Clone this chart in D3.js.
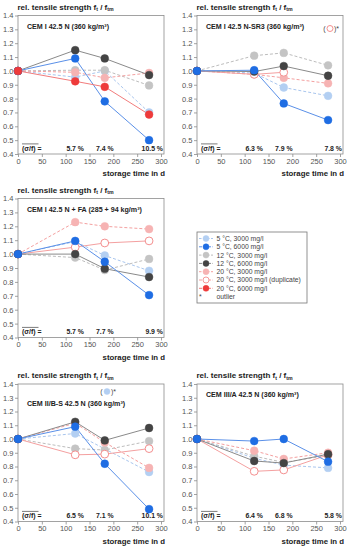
<!DOCTYPE html>
<html>
<head>
<meta charset="utf-8">
<script src="https://cdn.jsdelivr.net/npm/d3@7"></script>
<style>
  body { margin: 0; background: #fff; }
  svg { display: block; font-family: "Liberation Sans", Arial, sans-serif; }
</style>
</head>
<body>
<svg id="chart" width="353" height="550"></svg>
<script>
// storage times (d)
var times = [0, 120, 182, 275];

// panel titles
var panelTitles = [
  "CEM I 42.5 N (360 kg/m³)",
  "CEM I 42.5 N-SR3 (360 kg/m³)",
  "CEM I 42.5 N + FA (285 + 94 kg/m³)",
  "CEM II/B-S 42.5 N (360 kg/m³)",
  "CEM III/A 42.5 N (360 kg/m³)"
];

// mean coefficient of variation per storage time
var cvLabels = [
  ["5.7 %", "7.4 %", "10.5 %"],
  ["6.3 %", "7.9 %", "7.8 %"],
  ["5.7 %", "7.7 %", "9.9 %"],
  ["6.5 %", "7.1 %", "10.1 %"],
  ["6.4 %", "6.8 %", "5.8 %"]
];

// rel. tensile strength per panel (null = no value / outlier)
var t5c3000 = [
  [1.0, 0.955, 1.0, 0.70],
  [1.0, 0.985, 0.88, 0.82],
  [1.0, 1.09, 0.99, 0.88],
  [1.0, 1.04, null, 0.76],
  [1.0, 0.86, 0.81, 0.79]
];
var t5c6000 = [
  [1.0, 1.09, 0.78, 0.50],
  [1.0, 1.005, 0.765, 0.645],
  [1.0, 1.095, 0.945, 0.705],
  [1.0, 1.09, 0.82, 0.49],
  [1.0, 0.985, 1.0, 0.835]
];
var t12c3000 = [
  [1.0, 1.005, 1.005, 0.895],
  [1.0, 1.11, 1.13, 1.04],
  [1.0, 0.975, 0.885, 0.965],
  [1.0, 0.93, 0.92, 0.985],
  [1.0, 0.875, 0.83, 0.88]
];
var t12c6000 = [
  [1.0, 1.15, 1.09, 0.97],
  [1.0, 0.995, 1.035, 0.965],
  [1.0, 1.0, 0.895, 0.835],
  [1.0, 1.125, 0.99, 1.08],
  [1.0, 0.84, 0.825, 0.89]
];
var t20c3000 = [
  [1.0, 0.99, 0.95, 0.985],
  [1.0, 0.975, 0.95, 0.91],
  [1.0, 1.23, 1.20, 1.18],
  [1.0, 1.115, 0.975, 0.79],
  [1.0, 0.915, 0.855, 0.90]
];
var t20c3000dup = [
  null,
  [1.0, 0.975, 0.99, null],
  [1.0, 1.05, 1.08, 1.095],
  [1.0, 0.885, 0.89, 0.93],
  [1.0, 0.765, 0.775, 0.885]
];
var t20c6000 = [
  [1.0, 0.925, 0.885, 0.685],
  null,
  null,
  null,
  null
];

var yTicks = [0.4, 0.5, 0.6, 0.7, 0.8, 0.9, 1.0, 1.1, 1.2, 1.3, 1.4];
var xTicks = [0, 50, 100, 150, 200, 250, 300];

var seriesData = [t5c3000, t12c3000, t20c3000, t20c3000dup, t12c6000, t5c6000, t20c6000];
var seriesNames = ["5 °C, 3000 mg/l", "12 °C, 3000 mg/l", "20 °C, 3000 mg/l",
  "20 °C, 3000 mg/l (duplicate)", "12 °C, 6000 mg/l", "5 °C, 6000 mg/l", "20 °C, 6000 mg/l"];
var seriesFill   = ["#b3cff2", "#c4c4c4", "#f6b3b3", "#ffffff", "#444444", "#1f6de3", "#ee3b3b"];
var seriesStroke = ["#b3cff2", "#c4c4c4", "#f6b3b3", "#f48f8f", "#444444", "#1f6de3", "#ee3b3b"];
var seriesLine   = ["#a9c6ee", "#bdbdbd", "#f4a0a0", "#f4a0a0", "#8a8a8a", "#5a90e8", "#f27c7c"];
var seriesDash   = [true, true, true, false, false, false, false];

// legend order as in the figure
var legendOrder = [0, 5, 1, 4, 2, 3, 6];

var svg = d3.select("#chart");

// plot boxes (pixel areas)
var boxes = [
  { x0: 18,  x1: 161, y0: 15.5,  y1: 154 },
  { x0: 197, x1: 340, y0: 15.5,  y1: 154 },
  { x0: 18,  x1: 161, y0: 198.5, y1: 337.5 },
  { x0: 18,  x1: 161, y0: 384,   y1: 521.5 },
  { x0: 197, x1: 340, y0: 384,   y1: 521.5 }
];
var labelOffset = [10.5, 10.5, 10.5, 19.5, 10];

boxes.forEach(function(b, p) {
  var x = d3.scaleLinear().domain([0, 300]).range([b.x0, b.x1]);
  var y = d3.scaleLinear().domain([0.4, 1.4]).range([b.y1, b.y0]);
  var g = svg.append("g");

  // frame
  g.append("rect")
    .attr("x", b.x0).attr("y", b.y0)
    .attr("width", b.x1 + 3 - b.x0).attr("height", b.y1 - b.y0)
    .attr("fill", "none").attr("stroke", "#8c8c8c").attr("stroke-width", 0.8);

  // axes
  var ya = g.append("g").attr("transform", "translate(" + b.x0 + ",0)")
    .call(d3.axisLeft(y).tickValues(yTicks).tickSize(3).tickPadding(1.5).tickFormat(d3.format(".1f")));
  var xa = g.append("g").attr("transform", "translate(0," + b.y1 + ")")
    .call(d3.axisBottom(x).tickValues(xTicks).tickSize(3).tickPadding(1.5));
  [ya, xa].forEach(function(a) {
    a.select(".domain").remove();
    a.selectAll("line").attr("stroke", "#8c8c8c").attr("stroke-width", 0.8);
    a.selectAll("text").attr("fill", "#555").style("font-size", "7.5px").style("font-family", "Liberation Sans, Arial, sans-serif");
  });

  // y title
  var yt = g.append("text").attr("x", b.x0 - 0.5).attr("y", b.y0 - 6)
    .attr("fill", "#222").style("font-size", "8px").style("font-weight", "bold");
  yt.append("tspan").text("rel. tensile strength f");
  yt.append("tspan").attr("dy", 1.8).style("font-size", "5.2px").text("t");
  yt.append("tspan").attr("dy", -1.8).text(" / f");
  yt.append("tspan").attr("dy", 1.8).style("font-size", "5.2px").text("tm");

  // x title
  g.append("text").attr("x", b.x1 + 4).attr("y", b.y1 + 22)
    .attr("text-anchor", "end").attr("fill", "#222")
    .style("font-size", "7.8px").style("font-weight", "bold")
    .text("storage time in d");

  // panel label
  g.append("text").attr("x", b.x0 + 9).attr("y", b.y0 + labelOffset[p] + 2.5)
    .attr("fill", "#222").style("font-size", "7.1px").style("font-weight", "bold")
    .text(panelTitles[p]);

  // cv row
  var cy = b.y1 - 3.5;
  g.append("text").attr("x", b.x0 + 4).attr("y", cy)
    .attr("fill", "#222").style("font-size", "6.9px").style("font-weight", "bold")
    .text("(σ/f) =");
  g.append("line").attr("x1", b.x0 + 4).attr("x2", b.x0 + 20.5)
    .attr("y1", cy - 6.6).attr("y2", cy - 6.6).attr("stroke", "#222").attr("stroke-width", 0.6);
  g.selectAll("text.cv").data(cvLabels[p]).enter().append("text")
    .attr("class", "cv")
    .attr("x", function(d, i) { return i < 2 ? x(times[i + 1]) : b.x1 + 2; })
    .attr("y", cy)
    .attr("text-anchor", function(d, i) { return i < 2 ? "middle" : "end"; })
    .attr("fill", "#222").style("font-size", "6.9px").style("font-weight", "bold")
    .text(function(d) { return d; });

  var line = d3.line()
    .x(function(d) { return x(d[0]); })
    .y(function(d) { return y(d[1]); });

  // lines connect over missing values
  seriesData.forEach(function(s, k) {
    var vals = s[p];
    if (!vals) return;
    var pts = vals.map(function(v, i) { return [times[i], v]; }).filter(function(d) { return d[1] != null; });
    g.append("path")
      .attr("d", line(pts))
      .attr("fill", "none").attr("stroke", seriesLine[k]).attr("stroke-width", 1)
      .attr("stroke-dasharray", seriesDash[k] ? "3,2" : null);
  });
  seriesData.forEach(function(s, k) {
    var vals = s[p];
    if (!vals) return;
    g.selectAll("circle.s" + k).data(vals.map(function(v, i) { return [times[i], v]; }).filter(function(d) { return d[1] != null; }))
      .enter().append("circle")
      .attr("cx", function(d) { return x(d[0]); })
      .attr("cy", function(d) { return y(d[1]); })
      .attr("r", 3.9)
      .attr("fill", seriesFill[k]).attr("stroke", seriesStroke[k]).attr("stroke-width", k === 3 ? 1 : 0.5);
  });
});

// outlier notes
function outlierNote(cx, cy, k) {
  var g = svg.append("g");
  g.append("text").attr("x", cx - 5.5).attr("y", cy + 2.5).attr("text-anchor", "middle")
    .attr("fill", "#444").style("font-size", "7px").text("(");
  g.append("circle").attr("cx", cx).attr("cy", cy).attr("r", 3)
    .attr("fill", seriesFill[k]).attr("stroke", seriesStroke[k]).attr("stroke-width", k === 3 ? 1 : 0.5);
  g.append("text").attr("x", cx + 4).attr("y", cy + 2.5)
    .attr("fill", "#444").style("font-size", "7px").text(")*");
}
outlierNote(330, 28.5, 3);
outlierNote(107, 391.5, 0);

// legend
var lg = svg.append("g");
lg.append("rect").attr("x", 197).attr("y", 232).attr("width", 110).attr("height", 71)
  .attr("fill", "#fff").attr("stroke", "#777").attr("stroke-width", 0.8);
legendOrder.forEach(function(k, i) {
  var ly = 238.5 + i * 8.3;
  lg.append("line").attr("x1", 199).attr("x2", 213).attr("y1", ly).attr("y2", ly)
    .attr("stroke", seriesLine[k]).attr("stroke-width", 1)
    .attr("stroke-dasharray", seriesDash[k] ? "2.5,1.5" : "3,1.5");
  lg.append("circle").attr("cx", 206).attr("cy", ly).attr("r", 3)
    .attr("fill", seriesFill[k]).attr("stroke", seriesStroke[k]).attr("stroke-width", k === 3 ? 0.9 : 0.5);
  lg.append("text").attr("x", 216.5).attr("y", ly + 2.4)
    .attr("fill", "#444").style("font-size", "6.8px").text(seriesNames[k]);
});
lg.append("text").attr("x", 199).attr("y", 238.5 + 7 * 8.3 + 2.4).attr("fill", "#444").style("font-size", "6.8px").text("*");
lg.append("text").attr("x", 216.5).attr("y", 238.5 + 7 * 8.3 + 2.4).attr("fill", "#444").style("font-size", "6.8px").text("outlier");
</script>
</body>
</html>
